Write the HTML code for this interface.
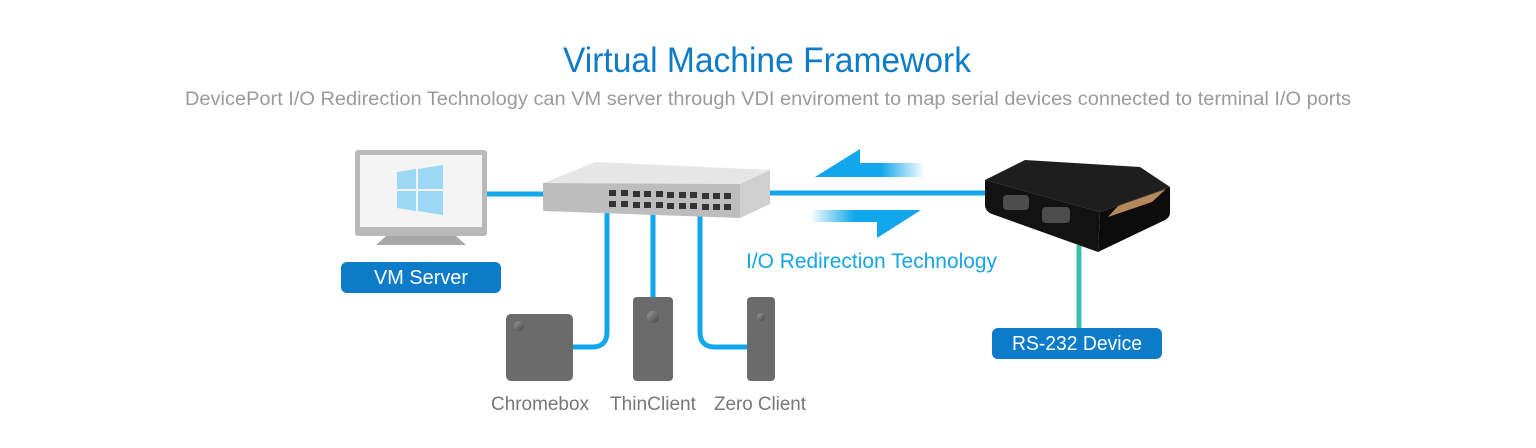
<!DOCTYPE html>
<html><head><style>
html,body{margin:0;padding:0;background:#fff;}
svg{display:block;font-family:"Liberation Sans",sans-serif;}
</style></head><body>
<svg width="1536" height="448" viewBox="0 0 1536 448" xmlns="http://www.w3.org/2000/svg">
<defs>
<linearGradient id="fl" x1="0" x2="1"><stop offset="0" stop-color="#12a6ec"/><stop offset="0.6" stop-color="#12a6ec"/><stop offset="1" stop-color="#12a6ec" stop-opacity="0"/></linearGradient>
<linearGradient id="fr" x1="0" x2="1"><stop offset="0" stop-color="#12a6ec" stop-opacity="0"/><stop offset="0.4" stop-color="#12a6ec"/><stop offset="1" stop-color="#12a6ec"/></linearGradient>
<linearGradient id="cl" x1="0" y1="0" x2="1" y2="1"><stop offset="0" stop-color="#9a9a9a"/><stop offset="1" stop-color="#444"/></linearGradient>
</defs>
<text x="767" y="72" text-anchor="middle" font-size="35" fill="#0c7cc9" textLength="408" lengthAdjust="spacingAndGlyphs">Virtual Machine Framework</text>
<text x="768" y="105" text-anchor="middle" font-size="19" fill="#9a9a9a" textLength="1166" lengthAdjust="spacingAndGlyphs">DevicePort I/O Redirection Technology can VM server through VDI enviroment to map serial devices connected to terminal I/O ports</text>

<g stroke="#12a6ec" stroke-width="5" fill="none">
<line x1="486" y1="194" x2="545" y2="194"/>
<line x1="768" y1="193" x2="987" y2="193"/>
<path d="M607 210 V332 Q607 347 592 347 H573"/>
<line x1="653" y1="210" x2="653" y2="298"/>
<path d="M700 214 V332 Q700 347 715 347 H748"/>
</g>
<line x1="1079" y1="245" x2="1079" y2="330" stroke="#3cbfae" stroke-width="5"/>

<rect x="355" y="150" width="132" height="86" rx="3" fill="#b9b9b9"/>
<rect x="360" y="155" width="122" height="72" fill="#f4f4f4"/>
<path d="M376 245 L386 236 H456 L466 245 Z" fill="#a8a8a8"/>
<g fill="#9ad8f5">
<path d="M397 172 L416 169 V189 H397 Z"/><path d="M418 169 L443 165 V189 H418 Z"/>
<path d="M397 191 H416 V211 L397 208 Z"/><path d="M418 191 H443 V215 L418 211 Z"/>
</g>

<path d="M543 183 L595 162 L770 170 L740 184 Z" fill="#e6e6e6"/>
<path d="M740 184 L770 170 V204 L740 218 Z" fill="#cfcfcf"/>
<path d="M543 183 L740 184 V218 L543 211 Z" fill="#bdbdbd"/>
<g fill="#333">
<rect x="609" y="190" width="7" height="6"/><rect x="621" y="190" width="7" height="6"/><rect x="633" y="191" width="7" height="6"/><rect x="644" y="191" width="7" height="6"/><rect x="656" y="191" width="7" height="6"/><rect x="667" y="192" width="7" height="6"/><rect x="679" y="192" width="7" height="6"/><rect x="690" y="192" width="7" height="6"/><rect x="702" y="193" width="7" height="6"/><rect x="713" y="193" width="7" height="6"/><rect x="724" y="193" width="7" height="6"/>
<rect x="609" y="201" width="7" height="6"/><rect x="621" y="201" width="7" height="6"/><rect x="633" y="202" width="7" height="6"/><rect x="644" y="202" width="7" height="6"/><rect x="656" y="202" width="7" height="6"/><rect x="667" y="203" width="7" height="6"/><rect x="679" y="203" width="7" height="6"/><rect x="690" y="203" width="7" height="6"/><rect x="702" y="204" width="7" height="6"/><rect x="713" y="204" width="7" height="6"/><rect x="724" y="204" width="7" height="6"/>
</g>

<rect x="506" y="314" width="67" height="67" rx="5" fill="#6b6b6b"/>
<circle cx="519" cy="326" r="5" fill="url(#cl)"/>
<rect x="633" y="297" width="40" height="84" rx="4" fill="#6b6b6b"/>
<circle cx="653" cy="317" r="6" fill="url(#cl)"/>
<rect x="747" y="297" width="28" height="84" rx="4" fill="#6b6b6b"/>
<circle cx="761" cy="317" r="4" fill="url(#cl)"/>
<g font-size="19" fill="#777" text-anchor="middle">
<text x="540" y="410" textLength="98" lengthAdjust="spacingAndGlyphs">Chromebox</text><text x="653" y="410" textLength="86" lengthAdjust="spacingAndGlyphs">ThinClient</text><text x="760" y="410" textLength="92" lengthAdjust="spacingAndGlyphs">Zero Client</text>
</g>

<rect x="341" y="262" width="160" height="31" rx="6" fill="#0c7cc9"/>
<text x="421" y="284" text-anchor="middle" font-size="20" fill="#fff" textLength="94" lengthAdjust="spacingAndGlyphs">VM Server</text>

<path d="M815 177 L860 149 V163 H925 V177 Z" fill="url(#fl)"/>
<path d="M810 210 H921 L877 238 V222 H810 Z" fill="url(#fr)"/>
<text x="746" y="268" font-size="21.5" fill="#14a5e9" textLength="251" lengthAdjust="spacingAndGlyphs">I/O Redirection Technology</text>

<!-- device -->
<path d="M985 180 L1025 160 L1140 167 L1170 187 L1100 212 Z" fill="#1e1e1e"/>
<path d="M985 180 L1100 212 L1098 252 L992 214 Q985 211 985 205 Z" fill="#121212"/>
<path d="M1100 212 L1170 187 V213 Q1170 217 1165 220 L1098 252 Z" fill="#0c0c0c"/>
<path d="M1118 206 L1166 189 L1152 202 L1108 217 Z" fill="#b48a5a"/>
<rect x="1003" y="195" width="26" height="15" rx="4" fill="#4d4d4d"/>
<rect x="1042" y="207" width="28" height="16" rx="4" fill="#4d4d4d"/>

<rect x="992" y="328" width="170" height="31" rx="6" fill="#0c7cc9"/>
<text x="1077" y="350" text-anchor="middle" font-size="20" fill="#fff" textLength="130" lengthAdjust="spacingAndGlyphs">RS-232 Device</text>
</svg>
</body></html>
